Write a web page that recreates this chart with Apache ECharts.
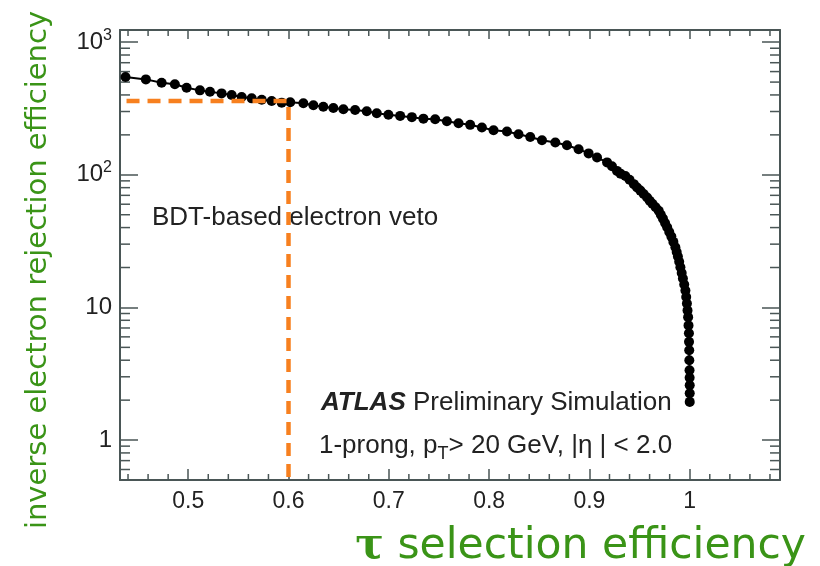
<!DOCTYPE html>
<html>
<head>
<meta charset="utf-8">
<script src="https://cdn.jsdelivr.net/npm/echarts@6/dist/echarts.min.js"></script>
<style>
  html, body { margin: 0; padding: 0; background: #ffffff; }
  #chart { width: 820px; height: 566px; }
</style>
</head>
<body>
<div id="chart"></div>
<script>
// tau selection efficiency (x) vs inverse electron rejection efficiency (y)
const tauEff = [
  0.4375, 0.4578, 0.4735, 0.4867, 0.4984, 0.5117, 0.5217, 0.5333, 0.5433, 0.5533,
  0.5633, 0.5733, 0.5832, 0.5932, 0.6017, 0.6148, 0.6248, 0.6347, 0.6447, 0.6547,
  0.6664, 0.6780, 0.6880, 0.6996, 0.7113, 0.7230, 0.7345, 0.7462, 0.7579, 0.7695,
  0.7811, 0.7928, 0.8044, 0.8178, 0.8293, 0.8410, 0.8527, 0.8660, 0.8776, 0.8892,
  0.8992, 0.9076, 0.9176, 0.9225, 0.9275, 0.9310, 0.9358, 0.9400, 0.9443, 0.9475,
  0.9508, 0.9541, 0.9575, 0.9601, 0.9628, 0.9660, 0.9691, 0.9712, 0.9733, 0.9754,
  0.9775, 0.9796, 0.9817, 0.9837, 0.9857, 0.9870, 0.9882, 0.9895, 0.9907, 0.9920,
  0.9932, 0.9945, 0.9957, 0.9965, 0.9972, 0.9978, 0.9984, 0.9988, 0.9992, 0.9993,
  0.9995, 0.9996, 0.9998, 0.9999, 1.0000, 1.0000, 1.0000
];
const invRejection = [
  546, 524, 494, 481, 453, 433, 423, 411, 399, 386,
  377, 368, 360, 350, 352, 346, 334, 326, 319, 312,
  308, 301, 291, 284, 278, 272, 265, 262, 253, 245,
  238, 227, 217, 212, 202, 193, 182, 175, 167, 156,
  145, 135, 124, 116, 107, 102, 98, 91.7, 85, 80.3,
  76, 71.6, 67.5, 63.8, 60.5, 57, 53.6, 50, 46.7, 43.3,
  40.2, 37, 34.2, 31.2, 28.4, 26.2, 24.2, 22.1, 20.1, 18.2,
  16.5, 14.9, 13.4, 12, 10.7, 9.5, 8.45, 7.32, 6.38, 5.5,
  4.75, 4.0, 3.36, 2.95, 2.59, 2.25, 1.94
];

// working point marked by the dashed guide
const workingPointX = [0.4385, 0.6, 0.6];
const workingPointY = [360, 360, 0.5];

// axis ranges and ticks
const xRange = [0.432, 1.09];
const yRange = [0.5, 1235];
const xMajorTicks = [0.5, 0.6, 0.7, 0.8, 0.9, 1.0];
const xMinorTicks = [0.44, 0.46, 0.48, 0.52, 0.54, 0.56, 0.58, 0.62, 0.64, 0.66, 0.68,
  0.72, 0.74, 0.76, 0.78, 0.82, 0.84, 0.86, 0.88, 0.92, 0.94, 0.96, 0.98,
  1.02, 1.04, 1.06, 1.08];
const yMinorTicks = [0.6, 0.7, 0.8, 0.9, 2, 3, 4, 5, 6, 7, 8, 9,
  20, 30, 40, 50, 60, 70, 80, 90, 200, 300, 400, 500, 600, 700, 800, 900];

const frameColor = '#4a5656';
const textColor = '#222222';
const titleGreen = '#3a9417';
const labelFont = 'Liberation Sans';

const curveData = tauEff.map((x, i) => [x, invRejection[i]]);
const guideData = workingPointX.map((x, i) => [x, workingPointY[i]]);

function xAxisCommon(position, tickLen) {
  return {
    type: 'value', position: position, min: xRange[0], max: xRange[1],
    axisLine: { show: true, onZero: false, lineStyle: { color: frameColor, width: 2 } },
    axisTick: { show: true, inside: true, length: tickLen, customValues: xMajorTicks,
      lineStyle: { color: frameColor, width: 1.5 } },
    axisLabel: { show: position === 'bottom', customValues: xMajorTicks, margin: 10,
      color: textColor, fontSize: 23, fontFamily: labelFont,
      formatter: v => (Math.abs(v - 1) < 1e-9 ? '1' : v.toFixed(1)) },
    splitLine: { show: false }
  };
}

function yAxisCommon(position) {
  return {
    type: 'log', logBase: 10, position: position, min: yRange[0], max: yRange[1],
    axisLine: { show: true, onZero: false, lineStyle: { color: frameColor, width: 2 } },
    axisTick: { show: true, inside: true, length: 18, lineStyle: { color: frameColor, width: 1.5 } },
    axisLabel: { show: position === 'left', showMinLabel: false, showMaxLabel: false,
      margin: 8, color: textColor, fontSize: 24, fontFamily: labelFont,
      formatter: v => {
        const p = Math.round(Math.log10(v));
        if (p === 0) return '1';
        if (p === 1) return '10';
        return '10{sup|' + p + '}';
      },
      rich: { sup: { fontSize: 16, fontFamily: labelFont, color: textColor, verticalAlign: 'top', padding: [0, 0, 14, 0] } }
    },
    splitLine: { show: false }
  };
}

// minor ticks on both opposing frame sides
function minorXTicks(params, api) {
  const cs = params.coordSys;
  const px = api.coord([api.value(0), api.value(1)])[0];
  const bottom = cs.y + cs.height, top = cs.y, len = 6;
  const style = { stroke: frameColor, lineWidth: 1.5 };
  return { type: 'group', children: [
    { type: 'line', shape: { x1: px, y1: bottom, x2: px, y2: bottom - len }, style: style },
    { type: 'line', shape: { x1: px, y1: top, x2: px, y2: top + len }, style: style }
  ] };
}
function minorYTicks(params, api) {
  const cs = params.coordSys;
  const py = api.coord([api.value(0), api.value(1)])[1];
  const left = cs.x, right = cs.x + cs.width, len = 10;
  const style = { stroke: frameColor, lineWidth: 1.5 };
  return { type: 'group', children: [
    { type: 'line', shape: { x1: left, y1: py, x2: left + len, y2: py }, style: style },
    { type: 'line', shape: { x1: right, y1: py, x2: right - len, y2: py }, style: style }
  ] };
}

const chart = echarts.init(document.getElementById('chart'), null, { renderer: 'canvas' });
chart.setOption({
  animation: false,
  backgroundColor: '#ffffff',
  grid: { left: 120, right: 40, top: 30, bottom: 86, containLabel: false },
  xAxis: [xAxisCommon('bottom', 11), xAxisCommon('top', 9)],
  yAxis: [yAxisCommon('left'), yAxisCommon('right')],
  series: [
    {
      type: 'custom', xAxisIndex: 0, yAxisIndex: 0, silent: true, z: 1,
      data: xMinorTicks.map(v => [v, 1]), renderItem: minorXTicks
    },
    {
      type: 'custom', xAxisIndex: 0, yAxisIndex: 0, silent: true, z: 1,
      data: yMinorTicks.map(v => [xMajorTicks[0], v]), renderItem: minorYTicks
    },
    {
      type: 'line', xAxisIndex: 0, yAxisIndex: 0, data: curveData, z: 3,
      symbol: 'circle', symbolSize: 10, showSymbol: true,
      itemStyle: { color: '#000000' },
      lineStyle: { color: '#000000', width: 2 }
    },
    {
      type: 'line', xAxisIndex: 0, yAxisIndex: 0, data: guideData, z: 4,
      symbol: 'none',
      lineStyle: { color: '#f7801f', width: 4.5, type: [13, 8] }
    }
  ],
  graphic: [
    { type: 'text', x: 152, y: 218, style: { text: 'BDT-based electron veto',
      font: '26px "Liberation Sans"', fill: textColor, verticalAlign: 'middle' } },
    { type: 'text', x: 321, y: 403, style: { text: '{b|ATLAS} Preliminary Simulation',
      font: '26px "Liberation Sans"', fill: textColor, verticalAlign: 'middle',
      rich: { b: { fontWeight: 'bold', fontStyle: 'italic', fontSize: 26, fontFamily: labelFont, fill: textColor } } } },
    { type: 'text', x: 319, y: 446, style: { text: '1-prong, p{s|T}> 20 GeV, |η | < 2.0',
      font: '26px "Liberation Sans"', fill: textColor, verticalAlign: 'middle',
      rich: { s: { fontSize: 18, fontFamily: labelFont, fill: textColor, padding: [16, 0, 0, 0] } } } },
    { type: 'text', x: 38, y: 270, rotation: Math.PI / 2,
      style: { text: 'inverse electron rejection efficiency', font: '29px "DejaVu Sans"',
        fill: titleGreen, align: 'center', verticalAlign: 'middle' } },
    { type: 'text', x: 806, y: 547,
      style: { text: '{t|τ} selection efficiency', font: '42.5px "DejaVu Sans"',
        fill: titleGreen, align: 'right', verticalAlign: 'middle',
        rich: { t: { fontSize: 42.5, fontWeight: 'bold', fontFamily: 'DejaVu Serif', fill: titleGreen } } } }
  ]
});
</script>
</body>
</html>
